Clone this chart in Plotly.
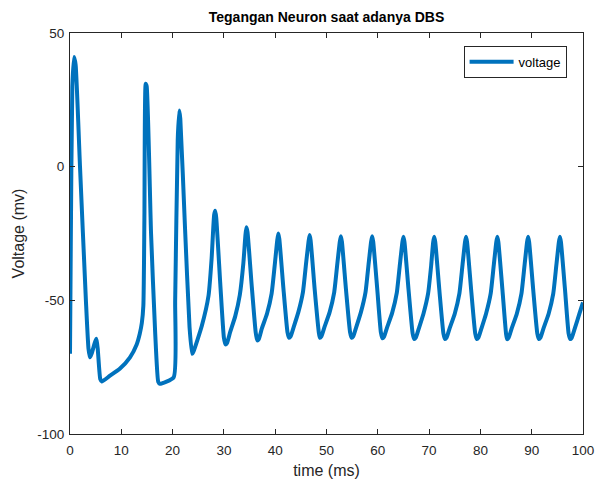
import plotly.graph_objects as go

# time (ms) and membrane voltage (mV)
t_ms = [
    0, 0.15, 0.45, 0.8, 1.1, 1.95, 3.1, 3.6, 3.9, 4.2, 4.9, 5.15, 5.4, 5.9, 6.2,
    7.8, 9.7, 11.7, 13.0, 13.6, 14.0, 14.3, 14.5, 14.75, 14.95, 15.8, 16.6, 17.2, 17.5,
    20.2, 20.5, 21.0, 21.3, 21.5, 22.4, 23.3, 23.8, 24.1, 25.7, 27.0, 27.6, 28.1, 28.3, 28.5,
    29.3, 30.0, 30.3,
    30.6, 31.2, 32.2, 33.1, 33.8, 34.2, 34.4, 34.6, 35.4, 36.2, 36.5,
    36.8, 37.4, 38.4, 39.3, 39.9, 40.4, 40.6, 40.8, 41.6, 42.4, 42.7,
    43.0, 43.6, 44.5, 45.4, 46.0, 46.5, 46.7, 46.9, 47.7, 48.5, 48.7,
    49.0, 49.6, 50.6, 51.5, 52.1, 52.6, 52.8, 53.0, 53.8, 54.6, 54.9,
    55.2, 55.8, 56.7, 57.6, 58.2, 58.7, 58.9, 59.1, 59.9, 60.6, 60.9,
    61.2, 61.8, 62.8, 63.7, 64.3, 64.8, 65.0, 65.2, 66.0, 66.8, 67.1,
    67.4, 68.0, 68.9, 69.8, 70.4, 70.8, 71.0, 71.2, 72.0, 72.8, 73.1,
    73.4, 74.0, 75.0, 75.9, 76.5, 77.0, 77.2, 77.4, 78.2, 79.0, 79.3,
    79.6, 80.2, 81.1, 82.0, 82.6, 83.1, 83.3, 83.5, 84.3, 85.0, 85.2,
    85.5, 86.1, 87.1, 88.0, 88.6, 89.1, 89.3, 89.5, 90.3, 91.1, 91.4,
    91.7, 92.3, 93.3, 94.2, 94.8, 95.3, 95.5, 95.7, 96.5, 97.2, 97.5,
    97.8, 98.4, 99.3, 100.0,
]
v_mv = [
    -70, -30, 30, 41, 38, 0, -50, -68, -71.3, -70, -65.5, -64.4, -68, -79.5, -80.4,
    -78.2, -75.6, -71.3, -66.5, -62.5, -58.5, -52, -20, 31, 30, -25, -62, -80.5, -81.2,
    -78.8, -50, 10, 21, 18, -22, -60, -70, -69, -59.5, -48.3, -34.5, -18, -16.5, -19,
    -44, -64, -66.5,
    -66, -62, -56, -48, -36, -25.5, -22.7, -24.5, -44, -62, -65,
    -64.5, -60.5, -55, -47.5, -37, -27.5, -25, -27, -45.5, -62, -64,
    -63.5, -60, -54.5, -47, -36.5, -28, -25.6, -27.5, -46, -62, -64,
    -63.5, -60, -54.5, -47, -36.5, -28, -26, -28, -46, -62, -64,
    -63.5, -60, -54.5, -47, -36.5, -28, -26, -28, -46, -62, -64.2,
    -63.7, -60.2, -54.7, -47.2, -36.7, -28.2, -26.2, -28.2, -46.2, -62.5, -64.5,
    -64, -60.5, -55, -47.5, -37, -28.2, -26.2, -28.2, -46.2, -62.5, -64.5,
    -64, -60.5, -55, -47.5, -37, -28.2, -26.2, -28.2, -46.2, -62.5, -64.5,
    -64, -60.5, -55, -47.5, -37, -28.2, -26.2, -28.2, -46.2, -62.5, -64.5,
    -64, -60.5, -55, -47.5, -37, -28.2, -26.2, -28.2, -46.2, -62.5, -64.5,
    -64, -60.5, -55, -47.5, -37, -28.2, -26.2, -28.2, -46.2, -62.5, -64.5,
    -64, -60.5, -55, -50.8,
]

x_ticks = [0, 10, 20, 30, 40, 50, 60, 70, 80, 90, 100]
x_labels = ["0", "10", "20", "30", "40", "50", "60", "70", "80", "90", "100"]
y_ticks = [-100, -50, 0, 50]
y_labels = ["-100", "-50", "0", "50"]

FONT = "Liberation Sans, Arial, sans-serif"
AX = "#262626"

fig = go.Figure()
fig.add_trace(go.Scatter(
    x=t_ms, y=v_mv, mode="lines", name="voltage",
    line=dict(color="#0072BD", width=4, shape="spline", smoothing=0.5),
))

axis_common = dict(
    showgrid=False, zeroline=False, showline=True, linecolor=AX, linewidth=1,
    mirror="ticks", ticks="inside", ticklen=5, tickcolor=AX, tickwidth=1,
    tickfont=dict(family=FONT, size=13.5, color=AX), automargin=False,
)

fig.update_layout(
    width=597, height=484,
    margin=dict(l=70, r=14, t=33, b=50),
    paper_bgcolor="white", plot_bgcolor="white",
    title=dict(text="<b>Tegangan Neuron saat adanya DBS</b>", x=0.5, xref="paper",
               xanchor="center", y=1 - 17 / 484, yanchor="middle",
               font=dict(family=FONT, size=14, color="black")),
    xaxis=dict(range=[0, 100], tickvals=x_ticks, ticktext=x_labels, ticklabelstandoff=4,
               title=dict(text="time (ms)", font=dict(family=FONT, size=16, color=AX), standoff=7),
               **axis_common),
    yaxis=dict(range=[-100, 50], tickvals=y_ticks, ticktext=y_labels, ticklabelstandoff=2,
               title=dict(text="Voltage (mv)", font=dict(family=FONT, size=16, color=AX), standoff=8),
               **axis_common),
    showlegend=True,
    legend=dict(x=0.968, xanchor="right", y=0.968, yanchor="top",
                bgcolor="white", bordercolor=AX, borderwidth=1,
                font=dict(family=FONT, size=13, color="black"),
                tracegroupgap=0, itemwidth=44),
)

fig.write_html("out.html", config={"displayModeBar": False},
               post_script="document.body.style.margin='0';")
